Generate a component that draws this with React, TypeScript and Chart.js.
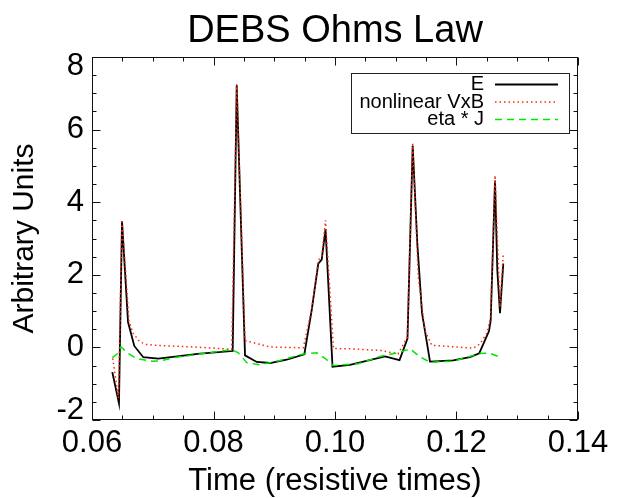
import React, { useEffect, useRef } from "react";
import { Chart, registerables } from "chart.js";

Chart.register(...registerables);

// ---- data ----
const timeE = [0.06334, 0.06444, 0.06494, 0.06593, 0.06696, 0.06844, 0.07091, 0.07778, 0.08316, 0.08382, 0.08519, 0.08711, 0.0893, 0.09205, 0.09495, 0.09616, 0.09725, 0.09781, 0.09844, 0.09959, 0.10247, 0.10823, 0.11062, 0.11193, 0.11279, 0.11355, 0.11432, 0.11564, 0.11947, 0.12222, 0.12375, 0.12535, 0.12563, 0.12634, 0.12672, 0.12716, 0.1277];
const valE = [-0.68, -1.54, 3.48, 0.7, 0.04, -0.27, -0.31, -0.17, -0.1, 7.22, -0.22, -0.4, -0.43, -0.34, -0.19, 1.02, 2.31, 2.42, 3.26, -0.53, -0.48, -0.25, -0.35, 0.24, 5.56, 2.86, 0.95, -0.39, -0.36, -0.27, -0.16, 0.45, 0.74, 4.6, 2.12, 0.94, 2.31];

const timeV = [0.06341, 0.06436, 0.06494, 0.06609, 0.0668, 0.0679, 0.069, 0.07119, 0.07695, 0.083, 0.08382, 0.08519, 0.0893, 0.09478, 0.09616, 0.09725, 0.09781, 0.09844, 0.09975, 0.10247, 0.10741, 0.11037, 0.1119, 0.11279, 0.11371, 0.11481, 0.11592, 0.11839, 0.12276, 0.12387, 0.12497, 0.1256, 0.12634, 0.12716, 0.1277];
const valV = [-0.3, -1.4, 3.52, 0.72, 0.38, 0.15, 0.08, 0.05, 0.01, -0.05, 7.25, 0.19, 0.01, -0.01, 1.05, 2.4, 2.5, 3.5, -0.03, -0.04, -0.08, -0.18, 0.28, 5.61, 1.94, 0.47, 0.06, 0.03, -0.02, 0.1, 0.38, 0.8, 4.74, 1.11, 2.58];

const timeJ = [0.06334, 0.06407, 0.06477, 0.06598, 0.06736, 0.06983, 0.07119, 0.07366, 0.0786, 0.083, 0.08408, 0.08547, 0.08765, 0.09095, 0.09478, 0.09699, 0.09835, 0.09972, 0.10384, 0.10741, 0.1107, 0.11235, 0.11399, 0.11564, 0.11947, 0.12387, 0.12551, 0.12688];
const valJ = [-0.28, -0.19, 0.01, -0.17, -0.31, -0.38, -0.37, -0.28, -0.16, -0.06, -0.15, -0.42, -0.48, -0.36, -0.18, -0.15, -0.3, -0.5, -0.45, -0.25, -0.13, -0.04, -0.26, -0.41, -0.38, -0.17, -0.16, -0.25];

const seriesLabels = ["E", "nonlinear VxB", "eta * J"];
const xTicks = [0.06, 0.08, 0.1, 0.12, 0.14];
const xTickLabels = ["0.06", "0.08", "0.10", "0.12", "0.14"];
const yTicks = [-2, 0, 2, 4, 6, 8];
const yTickLabels = ["-2", "0", "2", "4", "6", "8"];
const X_MINOR = 4;
const Y_MINOR = 4;
const chartTitle = "DEBS Ohms Law";
const xTitle = "Time (resistive times)";
const yTitle = "Arbitrary Units";

const FONT = "'Liberation Sans', Arial, Helvetica, sans-serif";

function minors(major: number[], n: number): number[] {
  const out: number[] = [];
  for (let i = 0; i < major.length - 1; i++) {
    for (let k = 1; k < n; k++) out.push(major[i] + ((major[i + 1] - major[i]) * k) / n);
  }
  return out;
}

const idlFrame = {
  id: "idlFrame",
  afterDraw(chart: any) {
    const { ctx, chartArea: a } = chart;
    const xs = chart.scales.x;
    const ys = chart.scales.y;
    ctx.save();
    ctx.setLineDash([]);
    ctx.strokeStyle = "#111";
    ctx.lineWidth = 1;
    const L = Math.round(a.left) + 0.5;
    const R = Math.round(a.right) - 0.5;
    const T = Math.round(a.top) + 0.5;
    const B = Math.round(a.bottom) - 0.5;
    ctx.strokeRect(L, T, R - L, B - T);

    ctx.beginPath();
    const xt = (v: number, len: number) => {
      const p = Math.round(xs.getPixelForValue(v)) + 0.5;
      ctx.moveTo(p, B); ctx.lineTo(p, B - len);
      ctx.moveTo(p, T); ctx.lineTo(p, T + len);
    };
    const yt = (v: number, len: number) => {
      const p = Math.round(ys.getPixelForValue(v)) + 0.5;
      ctx.moveTo(L, p); ctx.lineTo(L + len, p);
      ctx.moveTo(R, p); ctx.lineTo(R - len, p);
    };
    xTicks.forEach((v) => xt(v, 8));
    minors(xTicks, X_MINOR).forEach((v) => xt(v, 4));
    yTicks.forEach((v) => yt(v, 8));
    minors(yTicks, Y_MINOR).forEach((v) => yt(v, 4));
    ctx.stroke();

    // y tick labels (IDL style: end labels pulled inward)
    ctx.fillStyle = "#000";
    ctx.font = `31px ${FONT}`;
    ctx.textAlign = "right";
    ctx.textBaseline = "middle";
    yTicks.forEach((v, i) => {
      let p = ys.getPixelForValue(v);
      if (i === 0) p -= 10;
      if (i === yTicks.length - 1) p += 9;
      ctx.fillText(yTickLabels[i], a.left - 8, p);
    });

    // titles
    const cx = (a.left + a.right) / 2;
    ctx.textAlign = "center";
    ctx.textBaseline = "alphabetic";
    ctx.font = `38px ${FONT}`;
    ctx.fillText(chartTitle, cx, 42);
    ctx.font = `31px ${FONT}`;
    ctx.fillText(xTitle, cx, 490);
    ctx.save();
    ctx.translate(33, (a.top + a.bottom) / 2);
    ctx.rotate(-Math.PI / 2);
    ctx.font = `30px ${FONT}`;
    ctx.fillText(yTitle, 0, 0);
    ctx.restore();

    // legend
    const lg = { l: 351.5, t: 73.5, r: 569.5, b: 133.5 };
    ctx.fillStyle = "#fff";
    ctx.fillRect(lg.l, lg.t, lg.r - lg.l, lg.b - lg.t);
    ctx.strokeStyle = "#222";
    ctx.lineWidth = 1;
    ctx.strokeRect(lg.l, lg.t, lg.r - lg.l, lg.b - lg.t);
    ctx.font = `20px ${FONT}`;
    ctx.textAlign = "right";
    ctx.fillStyle = "#000";
    chart.data.datasets.forEach((d: any, i: number) => {
      const base = 90 + i * 17.5;
      ctx.fillText(d.label, 484, base);
      ctx.strokeStyle = d.borderColor;
      ctx.lineWidth = d.borderWidth;
      ctx.setLineDash(d.borderDash || []);
      ctx.beginPath();
      ctx.moveTo(495, base - 5.5);
      ctx.lineTo(558, base - 5.5);
      ctx.stroke();
    });
    ctx.restore();
  },
};

export default function App() {
  const ref = useRef<HTMLCanvasElement | null>(null);
  useEffect(() => {
    if (!ref.current) return;
    const chart = new Chart(ref.current, {
      type: "line",
      data: {
        datasets: [
          {
            label: seriesLabels[0],
            data: timeE.map((t, i) => ({ x: t, y: valE[i] })),
            borderColor: "#000000",
            borderWidth: 1.8,
            pointRadius: 0,
            tension: 0,
            order: 3,
          },
          {
            label: seriesLabels[1],
            data: timeV.map((t, i) => ({ x: t, y: valV[i] })),
            borderColor: "rgb(255,40,10)",
            borderWidth: 1.5,
            borderDash: [1.5, 3],
            pointRadius: 0,
            tension: 0,
            order: 2,
          },
          {
            label: seriesLabels[2],
            data: timeJ.map((t, i) => ({ x: t, y: valJ[i] })),
            borderColor: "rgb(0,230,0)",
            borderWidth: 1.5,
            borderDash: [7, 5],
            pointRadius: 0,
            tension: 0,
            order: 1,
          },
        ],
      },
      options: {
        responsive: false,
        animation: false,
        devicePixelRatio: 1,
        layout: { padding: { top: 57, right: 42, left: 0, bottom: 0 } },
        plugins: { legend: { display: false }, tooltip: { enabled: false }, title: { display: false } },
        scales: {
          x: {
            type: "linear",
            min: 0.06,
            max: 0.14,
            afterFit: (s: any) => { s.height = 78; },
            afterBuildTicks: (s: any) => { s.ticks = xTicks.map((v) => ({ value: v })); },
            grid: { display: false, drawTicks: false },
            border: { display: false },
            ticks: {
              padding: 5,
              color: "#000",
              maxRotation: 0,
              autoSkip: false,
              font: { family: FONT, size: 31 },
              callback: (_v: any, i: number) => xTickLabels[i],
            },
          },
          y: {
            type: "linear",
            min: -2,
            max: 8,
            afterFit: (s: any) => { s.width = 92; },
            afterBuildTicks: (s: any) => { s.ticks = yTicks.map((v) => ({ value: v })); },
            grid: { display: false, drawTicks: false },
            border: { display: false },
            ticks: { display: false },
          },
        },
      },
      plugins: [idlFrame],
    });
    return () => chart.destroy();
  }, []);
  return (
    <div style={{ position: "fixed", left: 0, top: 0, width: 620, height: 498, background: "#fff" }}>
      <canvas ref={ref} width={620} height={498} style={{ display: "block" }} />
    </div>
  );
}
